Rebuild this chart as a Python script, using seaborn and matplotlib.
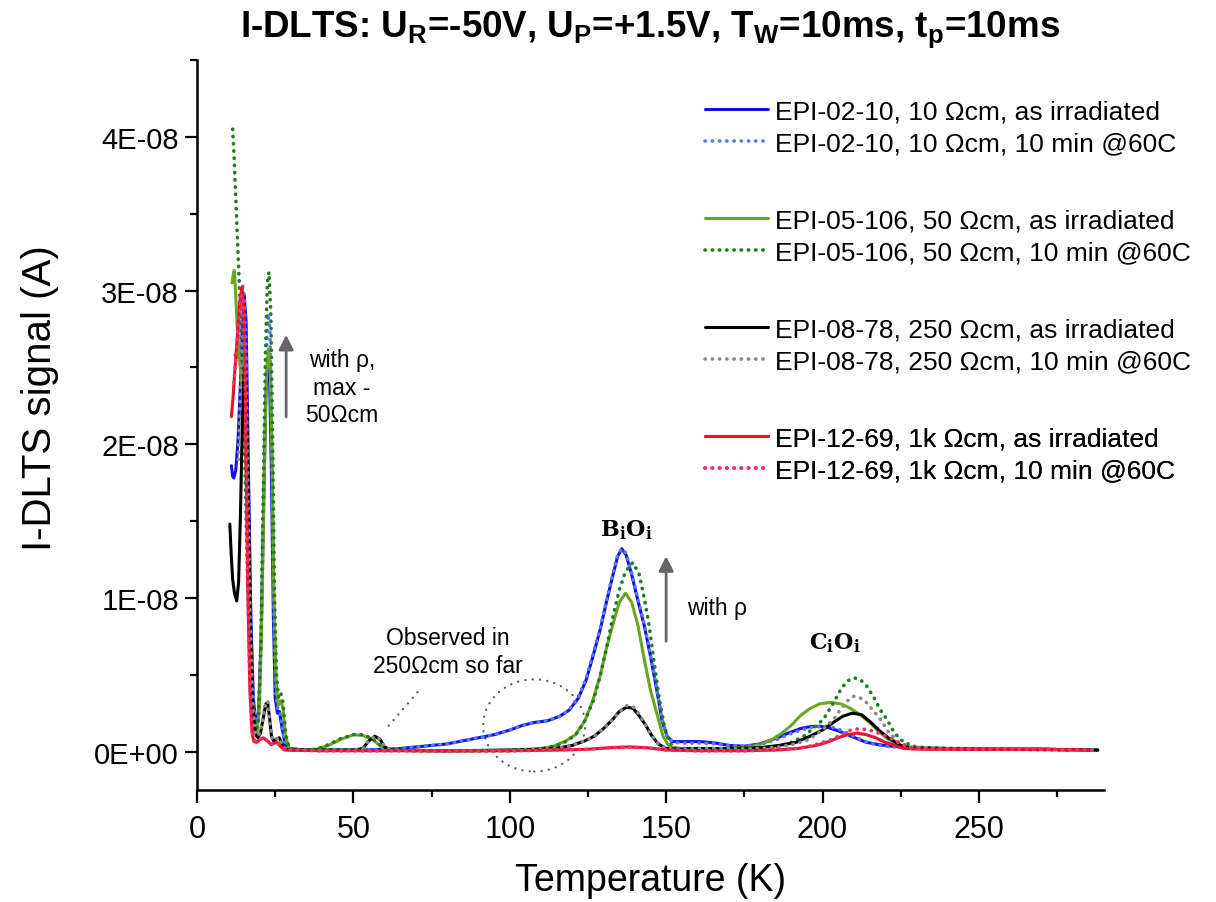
import numpy as np
import pandas as pd
import matplotlib
matplotlib.use("Agg")
import matplotlib.pyplot as plt
import seaborn as sns
from matplotlib.patches import Ellipse
from matplotlib.ticker import MultipleLocator, FuncFormatter

# ---- I-DLTS spectra, (temperature K, signal in units of 1e-8 A) ----
epi02_irr = [(11.0,1.86),(11.4,1.79),(11.8,1.78),(12.4,1.83),(13.1,2.02),(13.8,2.35),(14.5,2.75),(15.1,2.97),(15.7,2.8),(16.4,1.9),(17.2,0.9),(18.0,0.35),(18.9,0.17),(19.7,0.25),(20.5,0.75),(21.3,1.6),(22.0,2.3),(22.6,2.55),(23.2,2.45),(23.8,1.8),(24.4,0.9),(25.0,0.35),(25.7,0.25),(26.4,0.26),(27.2,0.15),(28.2,0.05),(29.5,0.02),(32,0.015),(36,0.01),(42,0.01),(48,0.01),(54,0.01),(60,0.015),(65,0.02),(70,0.03),(75,0.04),(80,0.05),(85,0.07),(90,0.09),(95,0.11),(100,0.14),(104,0.17),(108,0.19),(112,0.2),(116,0.23),(119,0.27),(122,0.35),(124.5,0.47),(127,0.65),(129,0.8),(131,0.98),(133,1.15),(134.5,1.27),(135.8,1.32),(137.2,1.28),(139,1.15),(141,0.98),(143,0.82),(145,0.62),(147,0.4),(148.7,0.2),(150.3,0.1),(152,0.065),(156,0.065),(161,0.065),(166,0.055),(170,0.04),(175,0.035),(180,0.05),(185,0.085),(189,0.12),(193,0.15),(196,0.162),(199.3,0.165),(202,0.155),(205,0.135),(208,0.11),(211,0.085),(214,0.06),(218,0.045),(222,0.035),(228,0.025),(240,0.02),(255,0.015),(270,0.015),(288,0.01)]
epi02_ann = [(12.2,2.58),(12.8,2.55),(13.4,2.6),(14.0,2.85),(14.6,3.03),(15.2,2.95),(15.8,2.5),(16.5,1.6),(17.3,0.75),(18.1,0.3),(19.0,0.16),(19.8,0.25),(20.6,0.8),(21.4,1.75),(22.1,2.55),(22.7,2.85),(23.3,2.75),(23.9,2.0),(24.5,1.0),(25.1,0.4),(25.8,0.28),(26.5,0.27),(27.3,0.14),(28.3,0.04),(29.5,0.02),(32,0.015),(36,0.01),(42,0.01),(48,0.01),(54,0.01),(60,0.015),(65,0.02),(70,0.03),(75,0.04),(80,0.05),(85,0.07),(90,0.09),(95,0.11),(100,0.14),(104,0.17),(108,0.19),(112,0.2),(116,0.23),(119,0.27),(122,0.36),(124.5,0.48),(127,0.66),(129,0.81),(131,0.99),(133,1.16),(134.5,1.28),(135.8,1.32),(137.2,1.29),(139,1.16),(141,0.99),(143,0.83),(145,0.63),(147,0.41),(148.7,0.21),(150.3,0.1),(152,0.06),(156,0.055),(161,0.055),(166,0.05),(170,0.04),(175,0.035),(180,0.045),(185,0.075),(189,0.11),(193,0.14),(197,0.16),(201,0.165),(204,0.155),(207,0.13),(210,0.1),(213,0.07),(216,0.05),(220,0.035),(226,0.025),(240,0.02),(255,0.015),(270,0.015),(288,0.01)]
epi05_irr = [(11.2,3.05),(11.6,3.1),(11.9,3.13),(12.3,3.0),(12.9,2.75),(13.6,2.55),(14.3,2.4),(15.0,2.25),(15.7,1.8),(16.4,1.1),(17.2,0.5),(18.2,0.2),(19.2,0.12),(20.0,0.3),(20.8,0.95),(21.5,1.8),(22.2,2.45),(22.8,2.62),(23.4,2.5),(24.0,1.9),(24.6,1.0),(25.3,0.45),(26.0,0.3),(26.8,0.33),(27.5,0.28),(28.3,0.1),(29.5,0.02),(33,0.01),(38,0.015),(42,0.04),(46,0.08),(50,0.11),(53,0.105),(56,0.08),(59,0.03),(62,0.01),(70,0.005),(80,0.005),(90,0.005),(100,0.01),(106,0.015),(110,0.02),(114,0.035),(118,0.07),(121,0.11),(124,0.2),(126.5,0.33),(129,0.5),(131,0.68),(133,0.83),(135,0.97),(137,1.03),(139,0.97),(141,0.82),(143,0.6),(145,0.4),(147,0.25),(149,0.1),(151,0.03),(155,0.02),(160,0.02),(170,0.02),(176,0.03),(180,0.045),(184,0.08),(187,0.12),(190,0.17),(193,0.235),(196,0.28),(199,0.31),(202.5,0.32),(206,0.31),(209,0.28),(212,0.24),(215,0.19),(218,0.13),(221,0.08),(224,0.045),(228,0.025),(240,0.02),(260,0.015),(279,0.01)]
epi05_ann = [(11.4,4.05),(11.8,3.9),(12.3,3.65),(12.9,3.35),(13.5,3.05),(14.1,2.7),(14.8,2.25),(15.5,1.7),(16.2,1.1),(17.0,0.55),(17.9,0.22),(18.8,0.13),(19.6,0.2),(20.4,0.7),(21.2,1.7),(21.9,2.6),(22.5,3.05),(23.0,3.12),(23.6,2.85),(24.2,2.0),(24.8,1.0),(25.4,0.5),(26.1,0.35),(26.8,0.38),(27.5,0.32),(28.3,0.12),(29.5,0.02),(33,0.01),(38,0.015),(42,0.045),(46,0.085),(50,0.11),(53,0.11),(56,0.085),(59,0.035),(62,0.01),(70,0.005),(80,0.005),(90,0.005),(100,0.005),(106,0.01),(111,0.02),(115,0.04),(118.5,0.07),(121.5,0.12),(124,0.2),(126.7,0.33),(129,0.5),(131,0.68),(133,0.88),(135,1.05),(137,1.17),(139.3,1.23),(141.3,1.16),(143,1.0),(144.7,0.8),(146.3,0.56),(148,0.32),(149.5,0.16),(151,0.06),(153,0.02),(160,0.02),(170,0.015),(180,0.02),(185,0.03),(190,0.06),(194,0.1),(197,0.15),(200.3,0.21),(203,0.3),(206,0.41),(208,0.46),(210,0.48),(212,0.47),(214,0.43),(216.5,0.35),(218.5,0.27),(220.6,0.21),(223,0.12),(226,0.06),(230,0.03),(240,0.02),(260,0.015),(279,0.01)]
epi08_irr = [(10.5,1.48),(10.9,1.3),(11.4,1.12),(12.0,1.03),(12.7,0.98),(13.3,1.1),(13.9,1.55),(14.5,2.15),(15.1,2.5),(15.7,2.45),(16.3,1.8),(17.0,0.9),(17.8,0.3),(18.6,0.12),(19.4,0.09),(20.3,0.12),(21.2,0.22),(22.0,0.31),(22.6,0.32),(23.2,0.22),(23.8,0.1),(24.5,0.07),(25.3,0.08),(26.3,0.09),(27.2,0.05),(28.2,0.015),(30,0.01),(40,0.01),(50,0.01),(53,0.02),(55,0.07),(56.8,0.1),(58.5,0.08),(60,0.03),(62,0.01),(80,0.005),(100,0.01),(110,0.015),(116,0.025),(120,0.04),(124,0.07),(127,0.1),(130,0.15),(132.5,0.2),(135,0.26),(137.5,0.29),(139.5,0.28),(141.5,0.23),(143.5,0.17),(145.5,0.1),(147.5,0.05),(150,0.02),(155,0.015),(160,0.02),(170,0.02),(180,0.025),(186,0.04),(191.5,0.06),(196,0.1),(200,0.14),(203.5,0.19),(206.5,0.23),(209.5,0.25),(212.5,0.24),(215.5,0.19),(218,0.14),(221,0.09),(225.5,0.035),(230,0.02),(250,0.015),(270,0.015),(288,0.01)]
epi08_ann = [(13.2,1.9),(13.8,2.3),(14.4,2.65),(15.0,2.75),(15.6,2.5),(16.3,1.7),(17.0,0.85),(17.8,0.3),(18.6,0.12),(19.4,0.1),(20.3,0.13),(21.2,0.23),(22.0,0.32),(22.6,0.33),(23.2,0.22),(23.8,0.1),(24.5,0.07),(25.3,0.08),(26.3,0.09),(27.2,0.05),(28.2,0.015),(30,0.01),(40,0.01),(50,0.01),(53,0.02),(55,0.07),(56.8,0.1),(58.5,0.08),(60,0.03),(62,0.01),(80,0.005),(100,0.01),(110,0.015),(116,0.025),(120,0.04),(124,0.07),(127,0.1),(130,0.15),(132.5,0.2),(135,0.26),(137.5,0.3),(139.5,0.29),(141.5,0.24),(143.5,0.17),(145.5,0.1),(147.5,0.05),(150,0.02),(155,0.015),(160,0.02),(170,0.02),(180,0.02),(186,0.03),(190,0.045),(194.7,0.07),(198,0.11),(201,0.16),(203.5,0.21),(206,0.28),(208,0.33),(210,0.36),(212,0.35),(214,0.32),(216.5,0.26),(218.5,0.21),(221,0.13),(224.4,0.06),(228,0.03),(240,0.02),(255,0.015),(270,0.015),(288,0.01)]
epi12_irr = [(11.0,2.18),(11.5,2.3),(12.0,2.45),(12.6,2.62),(13.2,2.8),(13.8,2.95),(14.4,3.02),(15.0,2.85),(15.6,2.1),(16.2,1.1),(16.9,0.4),(17.6,0.12),(18.2,0.065),(19.0,0.06),(20.0,0.075),(21.2,0.09),(22.5,0.07),(23.7,0.045),(24.8,0.055),(25.6,0.06),(26.6,0.035),(28,0.01),(40,0.005),(60,0.005),(80,0.005),(100,0.005),(115,0.01),(125,0.015),(132,0.025),(138,0.03),(144,0.025),(150,0.01),(160,0.005),(175,0.005),(185,0.01),(192,0.02),(198,0.04),(202,0.065),(205,0.09),(208,0.11),(211,0.12),(214,0.11),(217,0.09),(220,0.06),(222.4,0.045),(226,0.02),(232,0.015),(250,0.015),(270,0.015),(285,0.01)]
epi12_ann = [(11.8,2.4),(12.4,2.55),(13.0,2.72),(13.6,2.88),(14.2,2.97),(14.8,2.95),(15.4,2.45),(16.0,1.5),(16.7,0.6),(17.4,0.18),(18.1,0.08),(19.0,0.065),(20.0,0.08),(21.2,0.095),(22.5,0.07),(23.7,0.05),(24.8,0.055),(25.6,0.06),(26.6,0.035),(28,0.01),(40,0.005),(60,0.005),(80,0.005),(100,0.005),(115,0.01),(125,0.015),(132,0.025),(138,0.03),(144,0.025),(150,0.01),(160,0.005),(175,0.005),(185,0.01),(191.5,0.02),(197,0.04),(203,0.08),(206,0.11),(209,0.14),(212,0.15),(215,0.14),(218,0.12),(222.5,0.08),(225,0.05),(228,0.025),(235,0.015),(250,0.015),(270,0.015),(288,0.01)]

labels = [
    "EPI-02-10, 10 \u03a9cm, as irradiated",
    "EPI-02-10, 10 \u03a9cm, 10 min @60C",
    "EPI-05-106, 50 \u03a9cm, as irradiated",
    "EPI-05-106, 50 \u03a9cm, 10 min @60C",
    "EPI-08-78, 250 \u03a9cm, as irradiated",
    "EPI-08-78, 250 \u03a9cm, 10 min @60C",
    "EPI-12-69, 1k \u03a9cm, as irradiated",
    "EPI-12-69, 1k \u03a9cm, 10 min @60C",
]
series = [epi02_irr, epi02_ann, epi05_irr, epi05_ann,
          epi08_irr, epi08_ann, epi12_irr, epi12_ann]
colors = ["#1212e0", "#5a78f2", "#6aa524", "#1e7d1e",
          "#000000", "#8a8a8a", "#e8122a", "#f0306e"]
UNIT = 1e-8

frames = []
for lab, pts in zip(labels, series):
    arr = np.array(pts)
    frames.append(pd.DataFrame({"T": arr[:, 0], "signal": arr[:, 1] * UNIT, "sample": lab}))
df = pd.concat(frames, ignore_index=True)

sns.set_theme(style="ticks", rc={
    "axes.edgecolor": "black", "xtick.color": "black", "ytick.color": "black",
    "text.color": "black", "axes.labelcolor": "black"})
plt.rcParams["font.family"] = ["Liberation Sans", "DejaVu Sans"]
plt.rcParams["mathtext.default"] = "regular"

fig = plt.figure(figsize=(12.16, 9.03), dpi=100)
ax = fig.add_axes([197 / 1216, 1 - 791 / 903, (1104 - 197) / 1216, (791 - 61) / 903])

dot_ls = (0, (0.1, 1.9))
handles = []
for i, lab in enumerate(labels):
    dotted = i % 2 == 1
    sns.lineplot(data=df[df["sample"] == lab], x="T", y="signal", ax=ax,
                 color=colors[i], estimator=None, sort=False, legend=False,
                 linewidth=2.6 if dotted else 2.2,
                 linestyle=dot_ls if dotted else "-",
                 dash_capstyle="round")
    handles.append(ax.lines[-1])

ax.set_xlim(0, 290)
ax.set_ylim(-0.25e-8, 4.5e-8)
ax.xaxis.set_major_locator(MultipleLocator(50))
ax.xaxis.set_minor_locator(MultipleLocator(25))
ax.yaxis.set_major_locator(MultipleLocator(1e-8))
ax.yaxis.set_minor_locator(MultipleLocator(0.5e-8))
ax.yaxis.set_major_formatter(FuncFormatter(lambda v, p: format(round(v / UNIT) * UNIT, ".0E")))
ax.tick_params(which="major", length=9, width=1.6)
ax.tick_params(which="minor", length=5, width=1.6)
ax.tick_params(axis="x", which="major", labelsize=22, pad=8)
ax.tick_params(axis="y", which="major", labelsize=21, pad=4)
sns.despine(ax=ax)
for s in ("left", "bottom"):
    ax.spines[s].set_linewidth(1.8)

ax.set_xlabel("Temperature (K)", fontsize=27)
ax.set_ylabel("I-DLTS signal (A)", fontsize=29)
ax.xaxis.set_label_coords(0.5, -0.098)
ax.yaxis.set_label_coords(-0.152, 0.538)
ax.set_title(r"I-DLTS: U$_\mathregular{R}$=-50V, U$_\mathregular{P}$=+1.5V, "
             r"T$_\mathregular{W}$=10ms, t$_\mathregular{p}$=10ms",
             fontsize=26.5, fontweight="bold", pad=17)

# legend: four groups of two entries
for g, yc in enumerate([128, 237, 346, 455]):
    leg = ax.legend(handles=handles[2 * g:2 * g + 2], labels=labels[2 * g:2 * g + 2],
                    loc="center left", bbox_to_anchor=(705 / 1216, 1 - yc / 903),
                    bbox_transform=fig.transFigure, frameon=False, fontsize=19,
                    handlelength=2.4, handletextpad=0.27, labelspacing=0.29,
                    borderpad=0, borderaxespad=0)
    ax.add_artist(leg)

# annotations
arrow_kw = dict(arrowstyle="-|>", color="#666666", lw=2, mutation_scale=22)
ax.annotate("", xy=(28.5, 2.73e-8), xytext=(28.5, 2.16e-8), arrowprops=arrow_kw)
ax.annotate("", xy=(150, 1.29e-8), xytext=(150, 0.70e-8), arrowprops=arrow_kw)
ax.text(46.4, 2.37e-8, "with \u03c1,\nmax -\n50\u03a9cm", ha="center", va="center",
        fontsize=16.5, linespacing=1.25)
ax.text(166.3, 0.94e-8, "with \u03c1", ha="center", va="center", fontsize=16.5)
ax.text(80.3, 0.65e-8, "Observed in\n250\u03a9cm so far", ha="center", va="center",
        fontsize=16.5, linespacing=1.3)
ax.text(137.2, 1.45e-8, r"B$_\mathregular{i}$O$_\mathregular{i}$", ha="center", va="center",
        fontsize=16, fontweight="bold", family=["DejaVu Serif"])
ax.text(204, 0.71e-8, r"C$_\mathregular{i}$O$_\mathregular{i}$", ha="center", va="center",
        fontsize=16, fontweight="bold", family=["DejaVu Serif"])
ax.add_patch(Ellipse((107.8, 0.17e-8), width=32.6, height=0.6e-8, fill=False,
                     edgecolor="#555555", lw=1.6, linestyle=(0, (0.1, 3.2)),
                     capstyle="round"))
ax.annotate("", xy=(60.1, 0.14e-8), xytext=(71.1, 0.40e-8),
            arrowprops=dict(arrowstyle="-", color="#555555", lw=1.6,
                            linestyle=(0, (0.1, 3.2)), capstyle="round"))

fig.savefig("out.png", dpi=100)
